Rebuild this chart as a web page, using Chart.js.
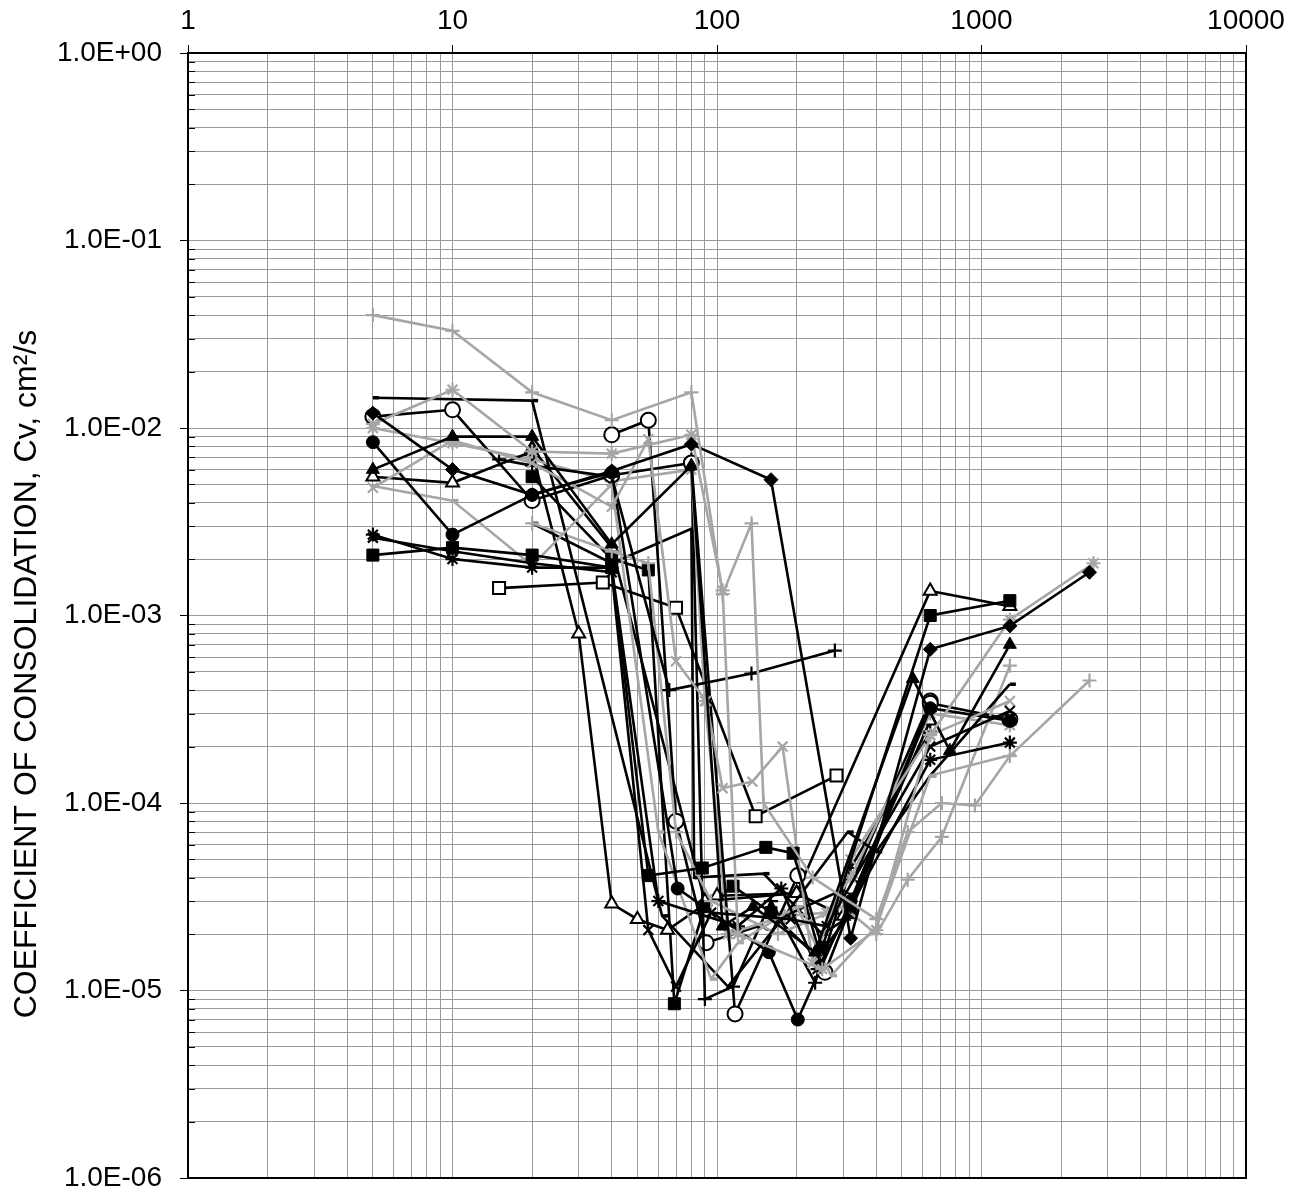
<!DOCTYPE html>
<html>
<head>
<meta charset="utf-8">
<script src="https://cdn.jsdelivr.net/npm/chart.js@4.4.1/dist/chart.umd.min.js"></script>
<style>
  html, body { margin: 0; padding: 0; background: #fff; }
  #wrap { width: 1303px; height: 1193px; }
</style>
</head>
<body>
<div id="wrap"><canvas id="cvChart"></canvas></div>
<script>
// pressure (x) and Cv (y) for each test
const bDiamondX = [5, 10, 20, 40, 80, 160, 320, 640, 1280, 2560];
const bDiamondY = [1.2e-2, 6.0e-3, 4.4e-3, 5.9e-3, 8.2e-3, 5.3e-3, 1.9e-5, 6.6e-4, 8.8e-4, 1.7e-3];

const bSquare1X = [5, 10, 20, 40, 55, 88, 153, 194, 250, 640, 1280];
const bSquare1Y = [2.1e-3, 2.3e-3, 2.1e-3, 1.8e-3, 4.1e-5, 4.5e-5, 5.8e-5, 5.4e-5, 1.7e-5, 1.0e-3, 1.2e-3];

const bSquare2X = [20, 40, 55, 69, 90, 115, 160, 240, 320, 640];
const bSquare2Y = [5.5e-3, 2.0e-3, 1.75e-3, 8.5e-6, 2.8e-5, 3.6e-5, 2.6e-5, 1.5e-5, 2.6e-5, 3.3e-4];

const bTriangleX = [5, 10, 20, 40, 80, 105, 137, 235, 550, 760, 1280];
const bTriangleY = [6.0e-3, 9.0e-3, 9.0e-3, 2.4e-3, 6.3e-3, 2.2e-5, 2.8e-5, 1.6e-5, 4.6e-4, 1.9e-4, 7.0e-4];

const bCircleX = [5, 10, 20, 40, 71, 157, 202, 320, 640, 1280];
const bCircleY = [8.4e-3, 2.7e-3, 4.4e-3, 5.8e-3, 3.5e-5, 1.6e-5, 7.0e-6, 3.0e-5, 3.2e-4, 2.75e-4];

const bRing1X = [5, 10, 20, 40, 80, 117, 202, 256, 640, 1280];
const bRing1Y = [1.15e-2, 1.25e-2, 4.1e-3, 5.6e-3, 6.5e-3, 7.5e-6, 4.1e-5, 1.25e-5, 3.4e-4, 2.8e-4];

const bRing2X = [40, 55, 70, 91, 158, 320, 640];
const bRing2Y = [9.2e-3, 1.1e-2, 8.0e-5, 1.8e-5, 2.3e-5, 3.6e-5, 3.5e-4];

const bCrossX = [5, 10, 20, 40, 55, 70, 95, 190, 260, 640, 1280];
const bCrossY = [2.6e-3, 2.2e-3, 1.9e-3, 1.7e-3, 2.1e-5, 1.05e-5, 2.6e-5, 2.4e-5, 2.2e-5, 2.0e-4, 3.1e-4];

const bStarX = [5, 10, 20, 40, 60, 120, 175, 240, 320, 640, 1280];
const bStarY = [2.7e-3, 2.0e-3, 1.8e-3, 1.8e-3, 3.0e-5, 2.2e-5, 3.5e-5, 1.3e-5, 2.8e-5, 1.7e-4, 2.1e-4];

const bDash1X = [5, 20, 62, 110, 180, 312, 400, 640, 1280];
const bDash1Y = [1.45e-2, 1.4e-2, 2.5e-5, 1.05e-5, 2.5e-5, 7.0e-5, 5.5e-5, 1.4e-4, 4.3e-4];

const bDash2X = [20, 40, 80, 82, 150, 250, 320];
const bDash2Y = [3.1e-3, 1.9e-3, 2.9e-3, 4.0e-5, 4.2e-5, 2.0e-5, 2.5e-5];

const bPlus1X = [15, 20, 40, 66, 135, 279];
const bPlus1Y = [6.8e-3, 6.3e-3, 5.5e-3, 4.0e-4, 4.9e-4, 6.5e-4];

const bPlus2X = [80, 90, 115, 160, 235, 320, 640];
const bPlus2Y = [6.8e-3, 9.0e-6, 1.05e-5, 3.0e-5, 1.1e-5, 4.5e-5, 2.4e-4];

const bTriOpen1X = [5, 10, 20, 30, 40, 50, 65, 100, 200, 640, 1280];
const bTriOpen1Y = [5.5e-3, 5.1e-3, 7.5e-3, 8.0e-4, 2.9e-5, 2.4e-5, 2.1e-5, 3.2e-5, 3.3e-5, 1.35e-3, 1.12e-3];

const bTriOpen2X = [20, 40, 90, 200, 300, 640];
const bTriOpen2Y = [7.8e-3, 2.3e-3, 3.0e-5, 3.3e-5, 2.5e-5, 2.75e-4];

const bSqOpenX = [15, 37, 70, 140, 283];
const bSqOpenY = [1.4e-3, 1.5e-3, 1.1e-3, 8.5e-5, 1.4e-4];

const gPlus1X = [5, 10, 20, 40, 80, 105, 135, 150, 230, 400, 526, 708, 944, 1280, 2560];
const gPlus1Y = [4.0e-2, 3.3e-2, 1.55e-2, 1.1e-2, 1.55e-2, 1.3e-3, 3.1e-3, 1.0e-4, 4.0e-5, 2.4e-5, 7.0e-5, 1.0e-4, 9.7e-5, 1.78e-4, 4.5e-4];

const gPlus2X = [20, 40, 55, 70, 95, 170, 300, 400, 526, 708, 1280];
const gPlus2Y = [3.1e-3, 2.2e-3, 1.9e-3, 7.0e-5, 3.0e-5, 2.0e-5, 2.8e-5, 2.0e-5, 3.9e-5, 6.6e-5, 5.4e-4];

const gStar1X = [5, 10, 20, 40, 80, 105, 120, 250, 400, 640, 1280, 2650];
const gStar1Y = [1.05e-2, 1.6e-2, 7.5e-3, 7.3e-3, 9.2e-3, 1.36e-3, 2.0e-5, 1.3e-5, 2.1e-5, 2.3e-4, 9.5e-4, 1.9e-3];

const gStar2X = [5, 10, 20, 40, 80, 90, 110, 180, 260, 320, 640, 1280];
const gStar2Y = [1.0e-2, 8.3e-3, 6.8e-3, 5.2e-3, 6.0e-3, 3.5e-4, 2.0e-5, 2.5e-5, 2.6e-5, 4.0e-5, 3.0e-4, 2.6e-4];

const gCrossX = [5, 10, 20, 40, 55, 70, 91, 105, 136, 177, 230, 320, 640, 1280];
const gCrossY = [4.8e-3, 8.6e-3, 6.5e-3, 3.8e-3, 8.7e-3, 5.7e-4, 3.5e-4, 1.2e-4, 1.3e-4, 2.0e-4, 1.4e-5, 5.0e-5, 2.3e-4, 3.5e-4];

const gDashX = [5, 10, 20, 40, 60, 95, 120, 200, 270, 400, 640, 1280];
const gDashY = [4.9e-3, 4.1e-3, 1.85e-3, 5.0e-3, 7.0e-5, 1.15e-5, 1.8e-5, 2.8e-5, 1.2e-5, 2.2e-5, 1.4e-4, 1.8e-4];

const xDecades = [1, 10, 100, 1000, 10000];
const yDecades = [1e-6, 1e-5, 1e-4, 1e-3, 1e-2, 1e-1, 1];

const BLACK = '#000000';
const GRAY = '#a6a6a6';

// marker look per style name
function marker(style, color, open) {
    const m = { pointStyle: style, pointRadius: 6, pointBorderWidth: 1, pointBorderColor: color, pointBackgroundColor: open ? '#ffffff' : color };
    if (style === 'rect') m.pointRadius = 8.5;
    if (style === 'rectRot') m.pointRadius = 7;
    if (style === 'triangle') m.pointRadius = 7.5;
    if (style === 'circle') m.pointRadius = open ? 7.5 : 6.5;
    if (style === 'cross' || style === 'crossRot' || style === 'star') { m.pointRadius = 7; m.pointBorderWidth = 2.2; }
    if (style === 'dash') { m.pointRadius = 6; m.pointBorderWidth = 3.5; }
    if (open) m.pointBorderWidth = 2;
    return m;
}

function series(xs, ys, color, style, open) {
    return Object.assign({
        data: xs.map((x, i) => ({ x: x, y: ys[i] })),
        showLine: true,
        borderColor: color,
        borderWidth: 2.6,
        pointHoverRadius: 6
    }, marker(style, color, open));
}

const datasets = [
    series(gPlus1X, gPlus1Y, GRAY, 'cross', false),
    series(bDiamondX, bDiamondY, BLACK, 'rectRot', false),
    series(bSquare1X, bSquare1Y, BLACK, 'rect', false),
    series(gStar1X, gStar1Y, GRAY, 'star', false),
    series(bTriangleX, bTriangleY, BLACK, 'triangle', false),
    series(bCrossX, bCrossY, BLACK, 'crossRot', false),
    series(gCrossX, gCrossY, GRAY, 'crossRot', false),
    series(bStarX, bStarY, BLACK, 'star', false),
    series(bCircleX, bCircleY, BLACK, 'circle', false),
    series(gDashX, gDashY, GRAY, 'dash', false),
    series(bPlus1X, bPlus1Y, BLACK, 'cross', false),
    series(bDash1X, bDash1Y, BLACK, 'dash', false),
    series(gPlus2X, gPlus2Y, GRAY, 'cross', false),
    series(bRing1X, bRing1Y, BLACK, 'circle', true),
    series(bTriOpen1X, bTriOpen1Y, BLACK, 'triangle', true),
    series(gStar2X, gStar2Y, GRAY, 'star', false),
    series(bSquare2X, bSquare2Y, BLACK, 'rect', false),
    series(bDash2X, bDash2Y, BLACK, 'dash', false),
    series(bPlus2X, bPlus2Y, BLACK, 'cross', false),
    series(bRing2X, bRing2Y, BLACK, 'circle', true),
    series(bTriOpen2X, bTriOpen2Y, BLACK, 'triangle', true),
    series(bSqOpenX, bSqOpenY, BLACK, 'rect', true)
];

function isMajor(v) {
    const l = Math.log10(v);
    return Math.abs(l - Math.round(l)) < 1e-9;
}

function logTicks(decades) {
    const out = [];
    for (let i = 0; i < decades.length; i++) {
        const d = decades[i];
        out.push({ value: d, major: true });
        if (i < decades.length - 1) {
            for (let k = 2; k <= 9; k++) out.push({ value: k * d, major: false });
        }
    }
    return out;
}

function sciLabel(v) {
    const e = Math.round(Math.log10(v));
    return '1.0E' + (e < 0 ? '-' : '+') + String(Math.abs(e)).padStart(2, '0');
}

const frame = {
    id: 'frame',
    afterDatasetsDraw(chart) {
        const { ctx, chartArea: a } = chart;
        const ys = chart.scales.y;
        ctx.save();
        // short inner ticks on the left axis
        ctx.strokeStyle = '#000';
        ctx.lineWidth = 1;
        ys.ticks.forEach(t => {
            if (t.major) return;
            const py = Math.round(ys.getPixelForValue(t.value)) + 0.5;
            ctx.beginPath();
            ctx.moveTo(a.left, py);
            ctx.lineTo(a.left + 7, py);
            ctx.stroke();
        });
        ctx.lineWidth = 2;
        ctx.strokeRect(a.left, a.top, a.right - a.left, a.bottom - a.top);
        ctx.restore();
    },
    afterDraw(chart) {
        const ctx = chart.ctx;
        ctx.save();
        ctx.translate(27, 674);
        ctx.rotate(-Math.PI / 2);
        ctx.font = '32px "Liberation Sans", Arial, sans-serif';
        ctx.fillStyle = '#000';
        ctx.textAlign = 'center';
        ctx.textBaseline = 'middle';
        ctx.fillText('COEFFICIENT OF CONSOLIDATION, Cv, cm\u00b2/s', 0, 0);
        ctx.restore();
    }
};

const tickFont = { family: '"Liberation Sans", Arial, sans-serif', size: 28 };

new Chart(document.getElementById('cvChart'), {
    type: 'scatter',
    data: { datasets: datasets },
    options: {
        responsive: true,
        maintainAspectRatio: false,
        animation: false,
        devicePixelRatio: 1,
        layout: { padding: { left: 0, right: 57, top: 0, bottom: 15 } },
        plugins: {
            legend: { display: false },
            tooltip: { enabled: false }
        },
        scales: {
            x: {
                type: 'logarithmic',
                position: 'top',
                min: 1,
                max: 10000,
                afterBuildTicks: s => { s.ticks = logTicks(xDecades); },
                afterFit: s => { s.height = 53; s.paddingLeft = 0; s.paddingRight = 0; },
                ticks: {
                    autoSkip: false,
                    maxRotation: 0,
                    color: '#000',
                    font: tickFont,
                    padding: 7,
                    callback: v => isMajor(v) ? String(Math.round(v)) : ''
                },
                grid: {
                    color: '#999999',
                    lineWidth: 1,
                    tickLength: 8,
                    tickColor: c => (c.tick && isMajor(c.tick.value)) ? '#000' : 'rgba(0,0,0,0)',
                    tickWidth: 1
                },
                border: { color: '#000', width: 2 }
            },
            y: {
                type: 'logarithmic',
                min: 1e-6,
                max: 1,
                afterBuildTicks: s => { s.ticks = logTicks(yDecades); },
                afterFit: s => { s.width = 188; s.paddingTop = 0; s.paddingBottom = 0; },
                ticks: {
                    autoSkip: false,
                    color: '#000',
                    font: tickFont,
                    padding: 18,
                    callback: v => isMajor(v) ? sciLabel(v) : ''
                },
                grid: {
                    color: '#999999',
                    lineWidth: 1,
                    tickLength: 8,
                    tickColor: c => (c.tick && isMajor(c.tick.value)) ? '#000' : 'rgba(0,0,0,0)',
                    tickWidth: 1
                },
                border: { color: '#000', width: 2 }
            }
        }
    },
    plugins: [frame]
});
</script>
</body>
</html>
